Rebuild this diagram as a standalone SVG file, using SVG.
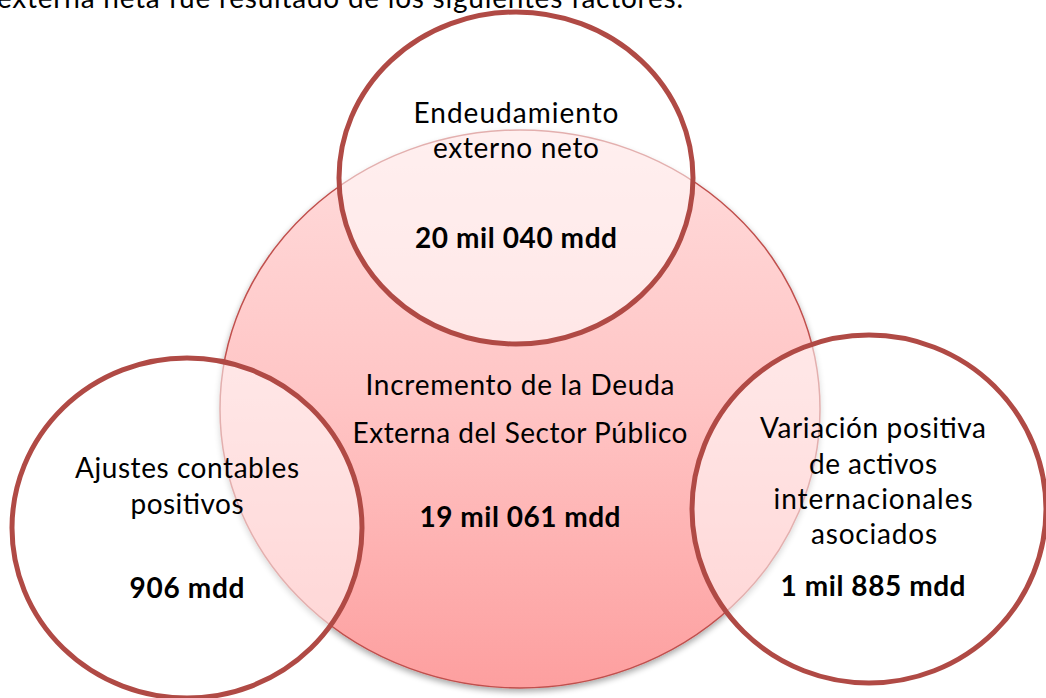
<svg xmlns="http://www.w3.org/2000/svg" width="1046" height="698" viewBox="0 0 1046 698">
  <defs>
    <linearGradient id="gCentral" x1="0" y1="0" x2="0" y2="1">
      <stop offset="0" stop-color="#ffdcdc"/>
      <stop offset="0.5" stop-color="#ffc4c4"/>
      <stop offset="1" stop-color="#fd9f9f"/>
    </linearGradient>
    <filter id="shadow" x="-10%" y="-10%" width="120%" height="125%">
      <feGaussianBlur in="SourceAlpha" stdDeviation="3"/>
      <feOffset dx="0" dy="3" result="b"/>
      <feComponentTransfer><feFuncA type="linear" slope="0.35"/></feComponentTransfer>
      <feMerge><feMergeNode/><feMergeNode in="SourceGraphic"/></feMerge>
    </filter>
    <style>
      .t { font-family: Lato, "Liberation Sans", sans-serif; font-size: 28px; fill: #000; text-anchor: middle; }
      .b { font-weight: bold; }
      .outer { fill: #ffffff; fill-opacity: 0.55; stroke: #b04a45; stroke-width: 5; }
      .central { fill: url(#gCentral); stroke: #c0504d; stroke-width: 1.5; }
    </style>
  </defs>
  <rect width="1046" height="698" fill="#ffffff"/>
  <text class="t" x="-3" y="8" style="text-anchor:start" textLength="686">externa neta fue resultado de los siguientes factores.</text>

  <g id="connectors"></g>

  <g id="central">
    <ellipse class="central" cx="520" cy="409" rx="300" ry="279" filter="url(#shadow)"/>
    <text class="t" x="520" y="395" textLength="309">Incremento de la Deuda</text>
    <text class="t" x="520" y="443" textLength="335">Externa del Sector Público</text>
    <text class="t b" x="520" y="527" textLength="201">19 mil 061 mdd</text>
  </g>

  <g id="top">
    <ellipse class="outer" cx="516" cy="178" rx="177" ry="166"/>
    <text class="t" x="516" y="123" textLength="205">Endeudamiento</text>
    <text class="t" x="516" y="158" textLength="166">externo neto</text>
    <text class="t b" x="516" y="248" textLength="202">20 mil 040 mdd</text>
  </g>

  <g id="left">
    <ellipse class="outer" cx="187" cy="528" rx="175" ry="170"/>
    <text class="t" x="187" y="478" textLength="224">Ajustes contables</text>
    <text class="t" x="187" y="514" textLength="113">positivos</text>
    <text class="t b" x="187" y="598" textLength="115">906 mdd</text>
  </g>

  <g id="right">
    <ellipse class="outer" cx="869" cy="509" rx="177" ry="174"/>
    <text class="t" x="873" y="438" textLength="226">Variación positiva</text>
    <text class="t" x="873" y="474" textLength="128">de activos</text>
    <text class="t" x="873" y="509" textLength="199">internacionales</text>
    <text class="t" x="874" y="544" textLength="126">asociados</text>
    <text class="t b" x="873" y="596" textLength="185">1 mil 885 mdd</text>
  </g>
</svg>
